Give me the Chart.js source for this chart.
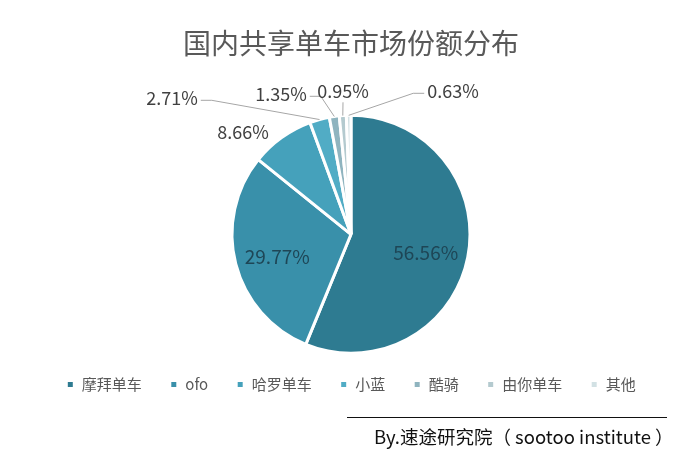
<!DOCTYPE html>
<html>
<head>
<meta charset="utf-8">
<script src="https://cdn.jsdelivr.net/npm/chart.js@4"></script>
<style>
  body { margin: 0; background: #fff; }
  #wrap { position: relative; width: 691px; height: 459px; }
  #credit {
    position: absolute; left: 347px; top: 417px; width: 320px;
    border-top: 1.5px solid #111;
    font-family: "Noto Sans CJK SC", sans-serif; font-size: 18.5px; color: #111;
    padding: 5px 0 0 27px; box-sizing: border-box; white-space: nowrap;
  }
</style>
</head>
<body>
<div id="wrap">
  <canvas id="pieChart"></canvas>
  <div id="credit">By.速途研究院（ sootoo institute ）</div>
</div>
<script>
const brands = ['摩拜单车', 'ofo', '哈罗单车', '小蓝', '酷骑', '由你单车', '其他'];
const shares = [56.56, 29.77, 8.66, 2.71, 1.35, 0.95, 0.63];
const sliceColors = ['#2e7b91', '#3990aa', '#45a1bb', '#51acc5', '#8fb4bf', '#b4cacf', '#d2e1e4'];

// where each label sits, relative to the pie centre (px at r=119); inside labels use null
const labelSpots = [null, null, [-108, -102], [-179, -136], [-70, -140], [-8, -143], [102, -143]];

const labelPlugin = {
  id: 'sliceLabels',
  afterDatasetsDraw(chart) {
    const ctx = chart.ctx;
    const arcs = chart.getDatasetMeta(0).data;
    ctx.save();
    ctx.textAlign = 'center';
    ctx.textBaseline = 'middle';
    arcs.forEach((arc, i) => {
      const p = arc.getProps(['x', 'y', 'startAngle', 'endAngle', 'outerRadius'], true);
      const mid = (p.startAngle + p.endAngle) / 2;
      const text = shares[i].toFixed(2) + '%';
      const spot = labelSpots[i];
      if (!spot) {
        const d = p.outerRadius * 0.64;
        ctx.font = '19px "Noto Sans CJK SC", sans-serif';
        ctx.fillStyle = '#1e4656';
        ctx.fillText(text, p.x + Math.cos(mid) * d, p.y + Math.sin(mid) * d + 4);
        return;
      }
      const k = p.outerRadius / 119;
      const tx = p.x + spot[0] * k, ty = p.y + spot[1] * k;
      ctx.font = '18px "Noto Sans CJK SC", sans-serif';
      ctx.fillStyle = '#404040';
      ctx.fillText(text, tx, ty);
      if (i < 3) return;
      const ex = p.x + Math.cos(mid) * p.outerRadius;
      const ey = p.y + Math.sin(mid) * p.outerRadius;
      const w = ctx.measureText(text).width / 2;
      ctx.strokeStyle = '#a6a6a6';
      ctx.lineWidth = 1;
      ctx.beginPath();
      if (tx + w < ex - 4) {
        ctx.moveTo(tx + w + 3, ty + 2);
        ctx.lineTo(tx + w + 14, ty + 2);
      } else if (tx - w > ex + 4) {
        ctx.moveTo(tx - w - 3, ty + 2);
        ctx.lineTo(tx - w - 14, ty + 2);
      } else {
        ctx.moveTo(tx, ty + 11);
      }
      ctx.lineTo(ex, ey);
      ctx.stroke();
    });
    ctx.restore();
  }
};

new Chart(document.getElementById('pieChart'), {
  type: 'pie',
  data: {
    labels: brands,
    datasets: [{
      data: shares,
      backgroundColor: sliceColors,
      borderColor: '#ffffff',
      borderWidth: 3,
      radius: 119
    }]
  },
  options: {
    responsive: true,
    maintainAspectRatio: false,
    animation: false,
    events: [],
    layout: { padding: { top: 27, bottom: 57, left: 11, right: 0 } },
    plugins: {
      tooltip: { enabled: false },
      title: {
        display: true,
        text: '国内共享单车市场份额分布',
        color: '#595959',
        font: { family: '"Noto Sans CJK SC", sans-serif', size: 28, weight: 'normal' },
        padding: { top: 0, bottom: 59 }
      },
      legend: {
        position: 'bottom',
        labels: {
          boxWidth: 8,
          boxHeight: 8,
          padding: 28,
          color: '#595959',
          font: { family: '"Noto Sans CJK SC", sans-serif', size: 15 }
        }
      }
    }
  },
  plugins: [labelPlugin]
});
</script>
</body>
</html>
